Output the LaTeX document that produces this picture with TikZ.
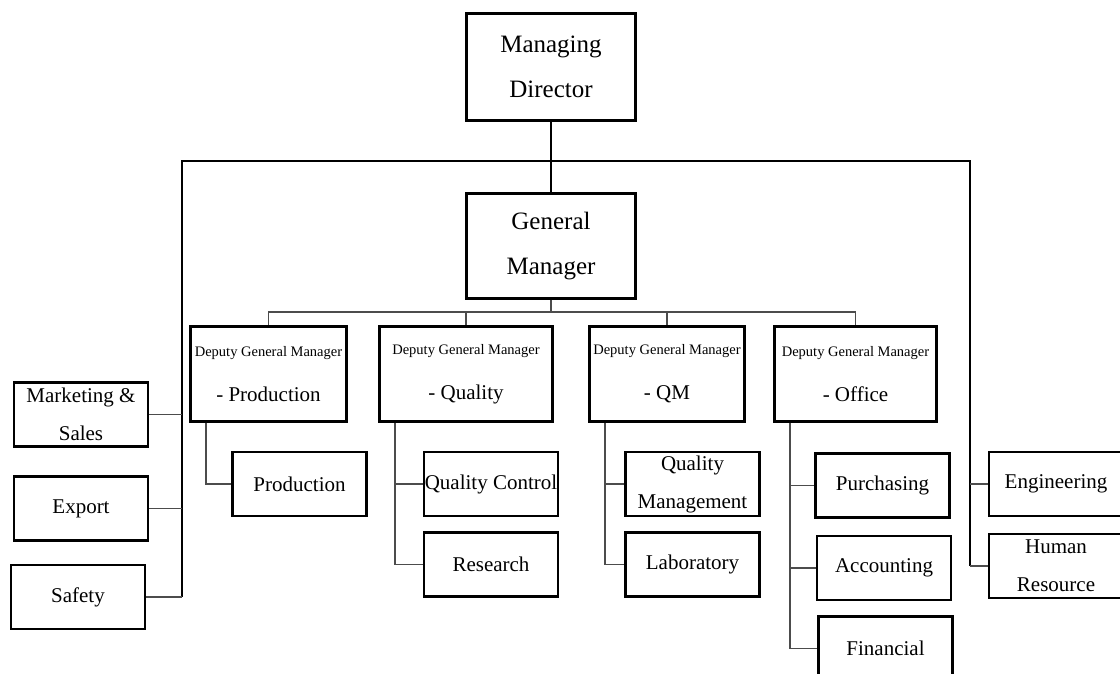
\documentclass[tikz,border=0pt]{standalone}
\usepackage{fontspec}
\setmainfont{Liberation Serif}
\newcommand{\deputy}{{\fontsize{14.5}{38}\selectfont Deputy General Manager}\\[7pt]}
\begin{document}
\begin{tikzpicture}
  [x=1pt,y=-1pt,
   every node/.style={draw, rectangle, line width=2.8pt, inner sep=0pt, align=center, font=\fontsize{21}{38}\selectfont},
   main/.style={minimum width=169pt, minimum height=107pt, font=\fontsize{25}{45}\selectfont},
   dgm/.style={minimum height=95pt},
   unit/.style={minimum width=134pt, minimum height=64pt},
   trunk/.style={line width=2.4pt},
   sub/.style={line width=1.4pt, black!70}]
  \useasboundingbox (0,0) rectangle (1120,674);
  \clip (0,0) rectangle (1120,674);

  \node[main] (md) at (551,67) {Managing\\Director};
  \node[main, minimum height=105pt] (gm) at (551,246) {General\\Manager};

  \node[dgm, minimum width=156pt] (dgmprod) at (268.5,374) {\deputy - Production};
  \node[dgm, minimum width=173pt] (dgmqual) at (466,374) {\deputy - Quality};
  \node[dgm, minimum width=155pt] (dgmqm) at (667,374) {\deputy - QM};
  \node[dgm, minimum width=162pt] (dgmoff) at (855.5,374) {\deputy - Office};

  \node[unit] (mkt) at (81,414.5) {Marketing \&\\Sales};
  \node[unit] (export) at (81,508.5) {Export};
  \node[unit] (safety) at (78,597) {Safety};
  \node[unit] (prod) at (299.5,484) {Production};
  \node[unit] (qc) at (491,484) {Quality Control};
  \node[unit] (research) at (491,564.5) {Research};
  \node[unit] (qm) at (692.5,484) {Quality\\Management};
  \node[unit] (lab) at (692.5,564.5) {Laboratory};
  \node[unit] (purch) at (882.5,485.5) {Purchasing};
  \node[unit] (acct) at (884,568) {Accounting};
  \node[unit] (fin) at (885.5,648.5) {Financial};
  \node[unit] (eng) at (1056,484) {Engineering};
  \node[unit] (hr) at (1056,566) {Human\\Resource};

  \coordinate (topL) at (182,161);
  \coordinate (topR) at (970,161);
  \coordinate (bus) at (551,312);

  % staff line
  \draw[trunk] (md) -- (gm);
  \draw[trunk] (safety.east -| topL) -- (topL) -- (topR) -- (hr.west -| topR);
  \foreach \to in {mkt, export, safety}
    \draw[sub] (\to.east -| topL) -- (\to.east);
  \foreach \to in {eng, hr}
    \draw[sub] (\to.west -| topR) -- (\to.west);

  % line below the general manager
  \draw[sub] (gm) -- (bus);
  \foreach \to in {dgmprod, dgmqual, dgmqm, dgmoff}
    \draw[sub] (bus) -| (\to.north);

  \foreach \from/\to in {dgmprod/prod, dgmqual/qc, dgmqual/research, dgmqm/qm, dgmqm/lab, dgmoff/purch, dgmoff/acct, dgmoff/fin}
    \draw[sub] ([xshift=17pt]\from.south west) |- (\to.west);
\end{tikzpicture}
\end{document}
